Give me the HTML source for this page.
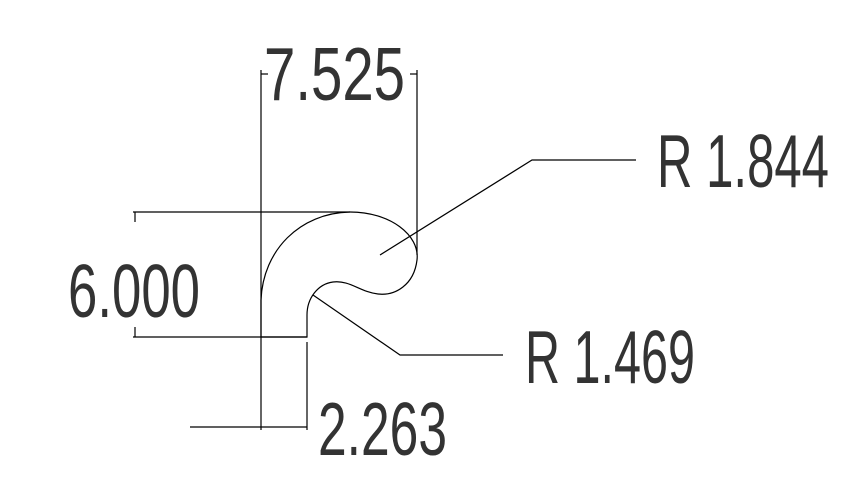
<!DOCTYPE html>
<html><head><meta charset="utf-8"><style>
html,body{margin:0;padding:0;background:#fff;}
svg{display:block;}
text{font-family:"Liberation Sans",sans-serif;font-size:75px;fill:#333;}
</style></head><body>
<svg width="853" height="494" viewBox="0 0 853 494" xmlns="http://www.w3.org/2000/svg">
<g stroke="#000" stroke-width="1.2" fill="none">
<line x1="261" y1="70" x2="261" y2="430"/>
<line x1="417" y1="70" x2="417" y2="255"/>
<line x1="133" y1="212" x2="350" y2="212"/>
<line x1="133" y1="337" x2="307" y2="337"/>
<line x1="307" y1="342" x2="307" y2="430"/>
<line x1="190" y1="427" x2="307" y2="427"/>
<line x1="135" y1="212" x2="135" y2="222"/>
<line x1="135" y1="327" x2="135" y2="337"/>
<line x1="261" y1="74" x2="268" y2="74"/>
<line x1="410" y1="74" x2="417" y2="74"/>
<path d="M261,337 L261,300 C263,250 300,213 350,212 C390,212 420,235 417,260 C414,285 395,296 378,294 C360,292 350,280 333,282 C318,284 307,298 307,315 L307,337 Z"/>
<polyline points="380,255 532,160 636,160"/>
<polyline points="313,295 400,355 503,355"/>
</g>
<text x="264" y="100" textLength="141" lengthAdjust="spacingAndGlyphs">7.525</text>
<text x="657" y="187" textLength="172" lengthAdjust="spacingAndGlyphs">R 1.844</text>
<text x="68" y="317" textLength="132" lengthAdjust="spacingAndGlyphs">6.000</text>
<text x="525" y="383" textLength="170" lengthAdjust="spacingAndGlyphs">R 1.469</text>
<text x="318" y="455" textLength="129" lengthAdjust="spacingAndGlyphs">2.263</text>
</svg>
</body></html>
